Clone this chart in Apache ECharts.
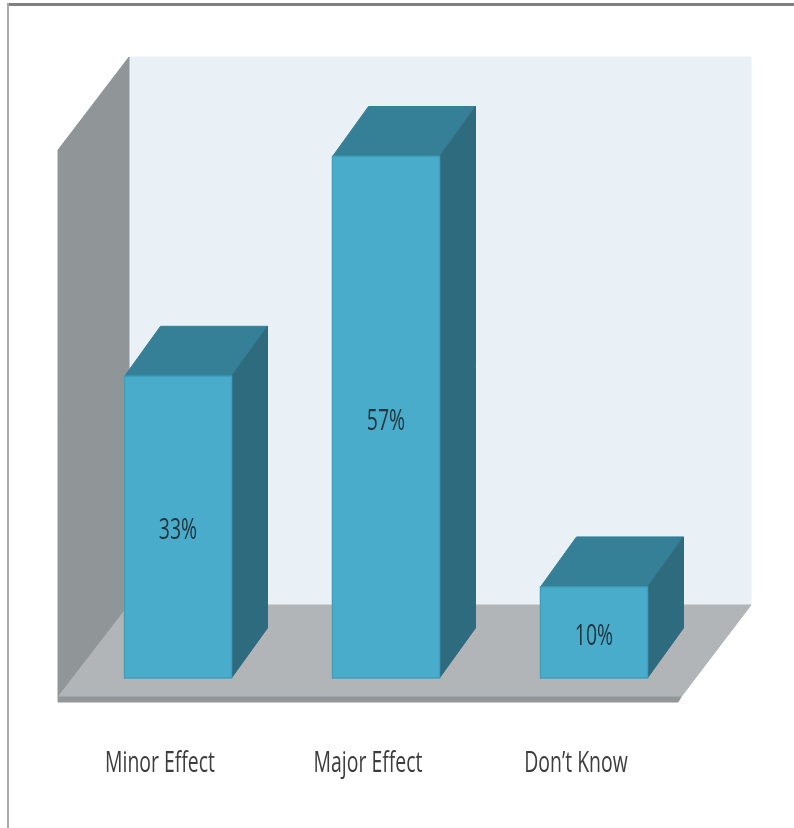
<!DOCTYPE html>
<html>
<head>
<meta charset="utf-8">
<style>html,body{margin:0;padding:0;background:#fff}#chart{width:794px;height:828px}</style>
<script src="https://cdn.jsdelivr.net/npm/echarts@6/dist/echarts.min.js"></script>
</head>
<body>
<div id="chart"></div>
<script>
const categories = ['Minor Effect', 'Major Effect', 'Don\u2019t Know'];
const shares = [33, 57, 10];

// Oblique projection used for the depth of the bars and of the room
const DEPTH_X = 36;
const DEPTH_Y = 50;
const BAR_WIDTH = 107;
const LABEL_FONT = '"Open Sans", sans-serif';
// All text is set in a condensed cut, obtained by squeezing the glyphs horizontally
const LABEL_SQUEEZE = 0.67;

function poly(points, fill, stroke) {
  return {
    type: 'polygon',
    shape: { points: points },
    style: { fill: fill, stroke: stroke || fill, lineWidth: 1 }
  };
}

function squeezedText(content, x, y, size, color) {
  return {
    type: 'text',
    x: x,
    y: y,
    scaleX: LABEL_SQUEEZE,
    style: {
      text: content,
      fill: color,
      font: size + 'px ' + LABEL_FONT,
      align: 'center',
      verticalAlign: 'middle'
    }
  };
}

// Back wall, side wall and floor, placed relative to the plot area
function renderRoom(params) {
  const g = params.coordSys;
  const base = g.y + g.height;
  const floorBack = base - 73;
  const floorFront = base + 19;
  const left = g.x - 16;
  const backLeft = g.x + 55;
  const backRight = g.x + g.width + 53;
  const frontRight = g.x + g.width - 17;
  const top = g.y - 99;
  return {
    type: 'group',
    children: [
      poly([[backLeft, top], [backRight, top], [backRight, floorBack], [backLeft, floorBack]], '#e9f0f6'),
      poly([[left, top + 93], [backLeft, top], [backLeft, floorBack], [left, floorFront]], '#909698'),
      poly([[backLeft, floorBack], [backRight, floorBack], [frontRight, floorFront], [left, floorFront]], '#b1b5b8'),
      poly([[left, floorFront], [frontRight, floorFront], [frontRight - 3, floorFront + 5], [left, floorFront + 5]], '#929698')
    ]
  };
}

function renderBar(params, api) {
  const index = api.value(0);
  const centre = api.coord([index, api.value(1)]);
  const foot = api.coord([index, 0]);
  const x0 = centre[0] - BAR_WIDTH / 2;
  const x1 = x0 + BAR_WIDTH;
  const yTop = centre[1] + 0.5;
  const yBase = foot[1];
  return {
    type: 'group',
    children: [
      poly([[x0, yTop], [x1, yTop], [x1 + DEPTH_X, yTop - DEPTH_Y], [x0 + DEPTH_X, yTop - DEPTH_Y]], '#358097'),
      poly([[x1, yTop], [x1 + DEPTH_X, yTop - DEPTH_Y], [x1 + DEPTH_X, yBase - DEPTH_Y], [x1, yBase]], '#2f6b7f'),
      {
        type: 'rect',
        shape: { x: x0, y: yTop, width: BAR_WIDTH, height: yBase - yTop },
        style: { fill: '#4aaccb', stroke: '#429fbc', lineWidth: 1.5 }
      },
      squeezedText(api.value(1) + '%', centre[0], (yTop + yBase) / 2 + 4, 29, '#22343c'),
      // Category captions sit slightly left of the bars, under the front floor edge
      squeezedText(categories[index], centre[0] - 18, yBase + 86, 29, '#3d3d3d')
    ]
  };
}

const chart = echarts.init(document.getElementById('chart'), null, { renderer: 'canvas' });
chart.setOption({
  animation: false,
  backgroundColor: '#ffffff',
  // Thin frame along the top and left edges
  graphic: [
    { type: 'rect', shape: { x: 7, y: 3, width: 787, height: 3 }, style: { fill: '#808080' }, z: 10 },
    { type: 'rect', shape: { x: 7, y: 3, width: 2, height: 825 }, style: { fill: '#a9a9a9' }, z: 10 }
  ],
  grid: { left: 74, top: 156, width: 624, height: 522 },
  xAxis: {
    type: 'category',
    data: categories,
    axisLine: { show: false },
    axisTick: { show: false },
    axisLabel: { show: false }
  },
  yAxis: { type: 'value', min: 0, max: 57, show: false },
  series: [
    {
      type: 'custom',
      coordinateSystem: 'cartesian2d',
      renderItem: renderRoom,
      data: [[0, 0]],
      silent: true,
      z: 1
    },
    {
      type: 'custom',
      coordinateSystem: 'cartesian2d',
      renderItem: renderBar,
      data: shares.map((v, i) => [i, v]),
      encode: { x: 0, y: 1 },
      clip: false,
      z: 2
    }
  ]
});
</script>
</body>
</html>
